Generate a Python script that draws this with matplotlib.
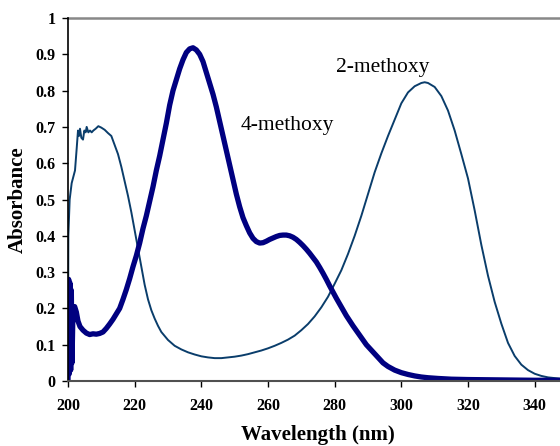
import matplotlib
matplotlib.use("Agg")
import matplotlib.pyplot as plt

# 2-methoxy spectrum (thin line)
thin_nm = [200, 200.1, 200.5, 201.1, 202.1, 202.6, 203.0, 203.3, 203.6, 204.0, 204.5,
           204.9, 205.3, 205.6, 206.1, 206.6, 207.1, 207.6, 208.3, 209.1, 210, 211, 212,
           213, 214, 215, 216, 217, 218, 219, 220, 221, 222, 223, 224, 225, 226, 227, 228,
           230, 232, 234, 236, 238, 240, 242, 244, 246, 248, 250, 252, 254, 256, 258, 260,
           262, 264, 266, 268, 270, 272, 274, 276, 278, 280, 282, 284, 286, 288, 290, 292,
           294, 296, 298, 300, 302, 304, 306, 307, 308, 310, 312, 314, 316, 318, 320, 322,
           324, 326, 328, 330, 332, 334, 336, 338, 340, 342, 344, 346, 348, 350]
thin_abs = [0.0, 0.40, 0.50, 0.545, 0.58, 0.64, 0.69, 0.675, 0.695, 0.67, 0.665,
            0.69, 0.685, 0.70, 0.685, 0.69, 0.685, 0.69, 0.695, 0.702, 0.698, 0.692, 0.683,
            0.675, 0.65, 0.625, 0.59, 0.55, 0.51, 0.465, 0.415, 0.365, 0.315, 0.265, 0.225,
            0.195, 0.172, 0.152, 0.135, 0.113, 0.097, 0.087, 0.079, 0.073, 0.068, 0.065,
            0.063, 0.063, 0.065, 0.067, 0.07, 0.074, 0.079, 0.084, 0.09, 0.097, 0.105,
            0.114, 0.125, 0.14, 0.157, 0.178, 0.203, 0.232, 0.268, 0.305, 0.35, 0.40,
            0.455, 0.515, 0.575, 0.627, 0.675, 0.72, 0.765, 0.795, 0.812, 0.821, 0.823,
            0.821, 0.81, 0.785, 0.745, 0.69, 0.625, 0.558, 0.47, 0.375, 0.29, 0.218, 0.158,
            0.105, 0.069, 0.045, 0.03, 0.02, 0.014, 0.01, 0.008, 0.006, 0.005]

# 4-methoxy spectrum (thick line)
thick_nm = [200, 200.2, 200.4, 200.6, 200.8, 201.0, 201.2, 201.5, 202, 202.5, 203, 203.6,
            204.5, 205.5, 206.5, 207.5, 208.5, 209.5, 210.5, 211.5, 212.5, 213.5, 214.5,
            215.5, 216.5, 217.5, 218.5, 219.5, 220.5, 221.5, 222.5, 223.5, 224.5, 225.5,
            226.5, 227.5, 228.5, 229.5, 230.5, 231.5, 232.5, 233.5, 234.5, 235.5, 236.5,
            237.5, 238.5, 239.5, 240.5, 241.5, 242.5, 243.5, 244.5, 245.5, 246.5, 247.5,
            248.5, 249.5, 250.5, 251.5, 252.5, 253.5, 254.5, 255.5, 256.5, 257.5, 258.5,
            259.5, 260.5, 261.5, 262.5, 263.5, 264.5, 265.5, 266.5, 267.5, 268.5, 269.5,
            270.5, 271.5, 272.5, 273.5, 274.5, 275.5, 276.5, 277.5, 278.5, 279.5, 280.5,
            281.5, 282.5, 283.5, 284.5, 285.5, 286.5, 287.5, 288.5, 289.5, 290.5, 291.5,
            292.5, 293.5, 294.5, 296, 298, 300, 302, 304, 306, 308, 311, 315, 320, 330, 340,
            350]
thick_abs = [0.0, 0.28, 0.02, 0.27, 0.03, 0.25, 0.05, 0.2, 0.205, 0.19, 0.165, 0.15,
             0.14, 0.132, 0.128, 0.13, 0.129, 0.131, 0.135, 0.145, 0.157, 0.17, 0.185,
             0.2, 0.225, 0.252, 0.282, 0.315, 0.345, 0.38, 0.42, 0.455, 0.495, 0.535,
             0.58, 0.62, 0.665, 0.71, 0.76, 0.8, 0.83, 0.86, 0.885, 0.905, 0.915,
             0.918, 0.912, 0.9, 0.88, 0.85, 0.82, 0.79, 0.755, 0.715, 0.675, 0.635,
             0.595, 0.555, 0.515, 0.48, 0.45, 0.428, 0.408, 0.393, 0.384, 0.38, 0.381,
             0.385, 0.39, 0.394, 0.398, 0.401, 0.402, 0.402, 0.4, 0.396, 0.39, 0.382,
             0.373, 0.363, 0.352, 0.34, 0.328, 0.313, 0.297, 0.28, 0.262, 0.245, 0.228,
             0.212, 0.196, 0.18, 0.166, 0.152, 0.139, 0.126, 0.113, 0.1, 0.09, 0.08,
             0.07, 0.06, 0.05, 0.04, 0.03, 0.023, 0.018, 0.014, 0.011, 0.009, 0.007, 0.005,
             0.004, 0.003, 0.002, 0.002]

x_ticks = [200, 220, 240, 260, 280, 300, 320, 340]
y_ticks = [0, 0.1, 0.2, 0.3, 0.4, 0.5, 0.6, 0.7, 0.8, 0.9, 1]
y_tick_labels = ["0", "0.1", "0.2", "0.3", "0.4", "0.5", "0.6", "0.7", "0.8", "0.9", "1"]

W, H = 560, 446
fig = plt.figure(figsize=(W / 100, H / 100), dpi=100)
ax = fig.add_axes([68 / W, 65 / H, (568 - 68) / W, 363 / H])

ax.plot(thin_nm, thin_abs, color="#0a3d6b", lw=1.4, solid_joinstyle="round")
ax.plot(thick_nm, thick_abs, color="#000080", lw=3.8, solid_joinstyle="round",
        solid_capstyle="round")

ax.set_xlim(200, 350)
ax.set_ylim(0, 1)
ax.axhline(1.0, color="#888888", lw=1.8, clip_on=False, zorder=0)

for s in ["top", "right"]:
    ax.spines[s].set_visible(False)
ax.spines["left"].set_color("black")
ax.spines["left"].set_linewidth(1.2)
ax.spines["bottom"].set_color("#505050")
ax.spines["bottom"].set_linewidth(1.5)

serif = ["Liberation Serif", "DejaVu Serif"]
ax.set_xticks(x_ticks)
ax.set_xticklabels([str(v) for v in x_ticks], fontfamily=serif, fontweight="bold", fontsize=11.5)
ax.set_yticks(y_ticks)
ax.set_yticklabels(y_tick_labels, fontfamily=serif, fontweight="bold", fontsize=11.5)
ax.tick_params(axis="x", direction="out", length=4, width=1, pad=8, colors="black")
ax.tick_params(axis="y", direction="out", length=4, width=1, pad=5, colors="black")

fig.text(318 / W, 1 - 435 / H, "Wavelength (nm)", ha="center", va="center",
         fontfamily=serif, fontweight="bold", fontsize=15)
fig.text(18 / W, 1 - 200 / H, "Absorbance", ha="center", va="center", rotation=90,
         fontfamily=serif, fontweight="bold", fontsize=15)

ax.text(251.8, 0.691, "4-methoxy", fontfamily=serif, fontsize=15.5, va="baseline", ha="left")
ax.text(280.4, 0.851, "2-methoxy", fontfamily=serif, fontsize=15.5, va="baseline", ha="left")

fig.savefig("out.png", dpi=100)
